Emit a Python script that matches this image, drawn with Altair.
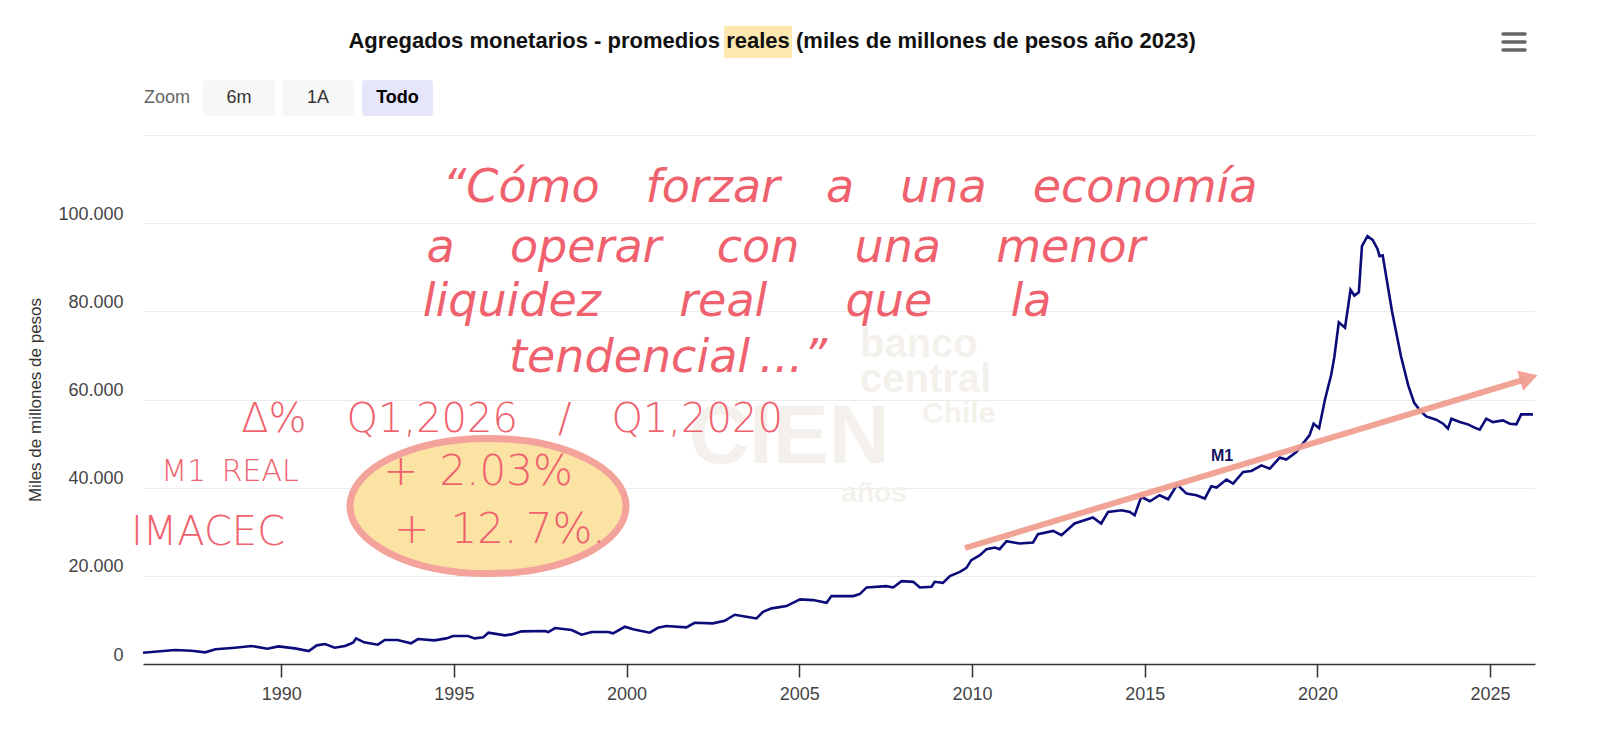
import altair as alt
import pandas as pd

# ---------------- data ----------------
years = [
    1986.00, 1986.50, 1986.93, 1987.40, 1987.80, 1988.10, 1988.66, 1989.15, 1989.60, 1989.92,
    1990.40, 1990.80, 1991.03, 1991.27, 1991.55, 1991.85, 1992.08, 1992.17, 1992.40, 1992.80,
    1993.00, 1993.37, 1993.76, 1993.96, 1994.44, 1994.78, 1994.98, 1995.41, 1995.60, 1995.85,
    1996.00, 1996.48, 1996.67, 1996.96, 1997.64, 1997.73, 1997.93, 1998.41, 1998.70, 1998.99,
    1999.47, 1999.61, 1999.95, 2000.19, 2000.67, 2000.91, 2001.15, 2001.73, 2001.97, 2002.50,
    2002.84, 2003.13, 2003.47, 2003.76, 2003.95, 2004.20, 2004.63, 2005.02, 2005.40, 2005.79,
    2005.93, 2006.56, 2006.75, 2006.95, 2007.52, 2007.72, 2007.96, 2008.30, 2008.49, 2008.83,
    2008.92, 2009.16, 2009.36, 2009.65, 2009.84, 2009.98, 2010.23, 2010.42, 2010.66, 2010.80,
    2011.00, 2011.38, 2011.77, 2011.91, 2012.35, 2012.59, 2012.97, 2013.50, 2013.74, 2013.94,
    2014.33, 2014.57, 2014.71, 2014.90, 2015.15, 2015.43, 2015.68, 2015.94, 2016.21, 2016.50,
    2016.74, 2016.93, 2017.08, 2017.37, 2017.56, 2017.85, 2018.09, 2018.38, 2018.62, 2018.91,
    2019.10, 2019.39, 2019.58, 2019.77, 2019.89, 2020.05, 2020.22, 2020.40, 2020.49, 2020.62,
    2020.80, 2020.96, 2021.07, 2021.20, 2021.29, 2021.45, 2021.60, 2021.74, 2021.80, 2021.89,
    2022.16, 2022.42, 2022.63, 2022.80, 2022.96, 2023.15, 2023.44, 2023.64, 2023.78, 2023.88,
    2024.12, 2024.36, 2024.55, 2024.70, 2024.89, 2025.08, 2025.37, 2025.57, 2025.76, 2025.90,
    2026.24,
]
m1_values = [
    2560, 2900, 3170, 3000, 2650, 3330, 3700, 4080, 3470, 4000,
    3550, 2940, 4230, 4530, 3700, 4080, 4830, 5810, 4910, 4380,
    5440, 5440, 4680, 5660, 5360, 5810, 6340, 6340, 5810, 6040,
    7100, 6490, 6720, 7400, 7480, 7250, 8150, 7700, 6640, 7250,
    7250, 6950, 8450, 7860, 7100, 8220, 8610, 8310, 9350, 9220,
    9810, 11170, 10710, 10340, 11850, 12620, 13140, 14650, 14500, 13880,
    15400, 15400, 15860, 17370, 17670, 17370, 18800, 18640, 17370, 17510,
    18640, 18410, 19930, 20910, 21810, 23560, 24690, 26050, 26430, 26050,
    27860, 27330, 27560, 29450, 30190, 29220, 31870, 33220, 31870, 34500,
    34880, 34500, 33750, 37900, 36920, 38280, 37370, 40700, 38660, 38280,
    37530, 40320, 40020, 41830, 40930, 43560, 43790, 45070, 44320, 46820,
    46370, 48090, 49980, 51870, 54510, 53500, 60000, 65620, 69610, 77530,
    76300, 84900, 83580, 84300, 94800, 97050, 96200, 94150, 92500, 92700,
    80000, 69800, 63190, 59300, 57600, 56170, 55420, 54510, 53390, 55650,
    54880, 54360, 53610, 53160, 55650, 54880, 55270, 54510, 54360, 56630,
    56630,
]
series_name = "M1"

y_ticks = [0, 20000, 40000, 60000, 80000, 100000, 120000]
x_ticks = [1990, 1995, 2000, 2005, 2010, 2015, 2020, 2025]

title_left = "Agregados monetarios - promedios"
title_mid = "reales"
title_right = "(miles de millones de pesos año 2023)"
zoom_label = "Zoom"
zoom_buttons = ["6m", "1A", "Todo"]
y_title = "Miles de millones de pesos"

EM, EN, THIN = "\u2003", "\u2002", "\u2009"
quote_lines = [
    "“Cómo" + EM + "forzar" + EM + "a" + EM + "una" + EM + "economía",
    "a" + EM + THIN + "operar" + EM + THIN + "con" + EM + THIN + "una" + EM + THIN + "menor",
    "liquidez" + EM + EN + THIN + "real" + EM + EN + THIN + "que" + EM + EN + THIN + "la",
    "tendencial" + THIN + "...”",
]
delta_label = "Δ%" + EM + "Q1,2026" + EM + "/" + EM + "Q1,2020"
row_labels = ["M1" + THIN + " REAL", "IMACEC"]
row_values = ["+" + EN + "2.03%", "+" + EN + "12." + THIN + "7%."]
watermark = ["banco", "central", "Chile", "CIEN", "años"]

# ---------------- layout helpers ----------------
X0, Y0 = 143, 135          # page position of plot-area origin
W, H = 1392, 529


def px(x):
    return x - X0


def py(y):
    return y - Y0


one = pd.DataFrame({"k": [0]})
HAND = "#f0616e"
HAND_FONT = "DejaVu Sans"
BASE_FONT = "Liberation Sans"


def txt(t, x, y, size, color, font=BASE_FONT, weight="normal", align="center",
        style="normal", baseline="middle"):
    return alt.Chart(one).mark_text(
        text=t, fontSize=size, color=color, font=font, fontWeight=weight,
        align=align, baseline=baseline, fontStyle=style,
    ).encode(x=alt.value(px(x)), y=alt.value(py(y)))


df = pd.DataFrame({"year": years, "value": m1_values, "serie": series_name})

label_expr = ("datum.value >= 120000 ? '' : (datum.value == 0 ? '0' : "
              "format(datum.value / 1000, 'd') + '.000')")

line = alt.Chart(df).mark_line(color="#0b0b7a", strokeWidth=2.6).encode(
    x=alt.X("year:Q",
            scale=alt.Scale(domain=[1986, 2026.3], nice=False, zero=False),
            axis=alt.Axis(values=x_ticks, format="d", title=None, grid=False,
                          domainColor="#333333", domainWidth=1.5,
                          tickColor="#333333", tickSize=13, tickWidth=1.5,
                          labelFontSize=18, labelColor="#444444",
                          labelFont=BASE_FONT, labelPadding=8)),
    y=alt.Y("value:Q",
            scale=alt.Scale(domain=[0, 120000], nice=False),
            axis=alt.Axis(values=y_ticks, labelExpr=label_expr, grid=True,
                          gridColor="#ececec", gridWidth=1, domain=False,
                          ticks=False, labelPadding=20, labelOffset=-9,
                          labelFontSize=18, labelColor="#444444",
                          labelFont=BASE_FONT,
                          title=y_title, titleFontSize=17,
                          titleFontWeight="normal", titleColor="#333333",
                          titleFont=BASE_FONT, titleAngle=270,
                          titleX=-108, titleY=H / 2, titleAlign="center",
                          titleBaseline="middle")),
)

layers = []

# faint watermark
wm = "#f4f1ed"
layers += [
    txt(watermark[0], 860, 345, 40, wm, weight="bold", align="left"),
    txt(watermark[1], 860, 380, 40, wm, weight="bold", align="left"),
    txt(watermark[2], 922, 414, 30, wm, weight="bold", align="left"),
    txt(watermark[3], 789, 438, 84, wm, weight="bold"),
    txt(watermark[4], 874, 494, 28, wm, weight="bold"),
]

layers.append(line)

# ellipse highlight
ellipse_path = "M -1 0 A 1 0.49 0 1 1 1 0 A 1 0.49 0 1 1 -1 0 Z"
layers.append(
    alt.Chart(one).mark_point(
        shape=ellipse_path, size=276 ** 2, filled=True, fill="#fbe3a3",
        stroke="#f3a39b", strokeWidth=7, opacity=1,
    ).encode(x=alt.value(px(488)), y=alt.value(py(506)))
)

# trend arrow
layers.append(
    alt.Chart(one).mark_rule(color="#f09e8f", strokeWidth=6, opacity=0.95).encode(
        x=alt.value(px(965)), y=alt.value(py(548)),
        x2=alt.value(px(1525)), y2=alt.value(py(379.4)))
)
layers.append(
    alt.Chart(one).mark_point(
        shape="triangle-right", size=441, filled=True, color="#f09e8f",
        opacity=0.95, angle=343.2,
    ).encode(x=alt.value(px(1528.9)), y=alt.value(py(378)))
)

# series label
layers.append(txt(series_name, 1222, 456, 16, "#14145e", weight="bold"))

# handwritten notes
layers += [
    txt(quote_lines[0], 850, 188, 46, HAND, font=HAND_FONT, weight=200, style="italic"),
    txt(quote_lines[1], 786, 248, 46, HAND, font=HAND_FONT, weight=200, style="italic"),
    txt(quote_lines[2], 737, 302, 46, HAND, font=HAND_FONT, weight=200, style="italic"),
    txt(quote_lines[3], 668, 358, 46, HAND, font=HAND_FONT, weight=200, style="italic"),
    txt(delta_label, 512, 420, 40, HAND, font=HAND_FONT, weight=200),
    txt(row_labels[0], 230, 472, 30, HAND, font=HAND_FONT, weight=200),
    txt(row_labels[1], 208, 533, 40, HAND, font=HAND_FONT, weight=200),
    txt(row_values[0], 478, 472, 42, HAND, font=HAND_FONT, weight=200),
    txt(row_values[1], 500, 530, 42, HAND, font=HAND_FONT, weight=200),
]

# title with highlighted word
layers.append(
    alt.Chart(one).mark_rect(color="#fde7a6", opacity=0.9).encode(
        x=alt.value(px(724)), x2=alt.value(px(792)),
        y=alt.value(py(26)), y2=alt.value(py(58)))
)
layers += [
    txt(title_left, 720, 41, 22, "#111111", weight="bold", align="right"),
    txt(title_mid, 758, 41, 22, "#111111", weight="bold"),
    txt(title_right, 796, 41, 22, "#111111", weight="bold", align="left"),
]

# zoom buttons
btn_x = [(203, 275), (282, 354), (362, 433)]
btn_fill = ["#f7f7f7", "#f7f7f7", "#e6e6fa"]
for (a, b), lab, fc in zip(btn_x, zoom_buttons, btn_fill):
    layers.append(
        alt.Chart(one).mark_rect(color=fc, cornerRadius=3).encode(
            x=alt.value(px(a)), x2=alt.value(px(b)),
            y=alt.value(py(80)), y2=alt.value(py(116)))
    )
    layers.append(txt(lab, (a + b) / 2, 98, 18,
                      "#000000" if lab == "Todo" else "#333333",
                      weight="bold" if lab == "Todo" else "normal"))
layers.append(txt(zoom_label, 144, 98, 18, "#666666", align="left"))

# hamburger menu
for yy in (34, 42, 50):
    layers.append(
        alt.Chart(one).mark_rule(color="#666666", strokeWidth=3.5, strokeCap="round").encode(
            x=alt.value(px(1503)), x2=alt.value(px(1525)),
            y=alt.value(py(yy)), y2=alt.value(py(yy)))
    )

chart = alt.layer(*layers).properties(
    width=W, height=H,
    autosize=alt.AutoSizeParams(type="none"),
    padding={"left": X0 - 8, "top": Y0 - 8, "right": 1587 - (X0 - 8) - W,
             "bottom": 713 - (Y0 - 8) - H},
    background="white",
).configure_view(stroke=None)

chart.save("out.html", embed_options={"renderer": "svg", "actions": False})
